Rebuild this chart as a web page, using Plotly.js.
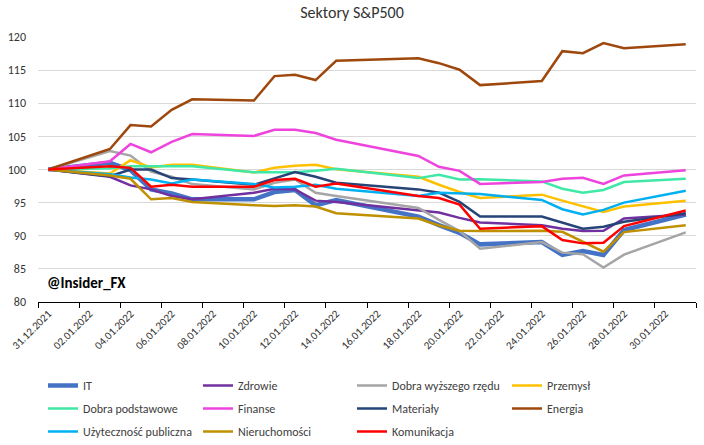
<!DOCTYPE html>
<html><head><meta charset="utf-8">
<script src="https://cdn.plot.ly/plotly-3.0.1.min.js"></script>
<style>html,body{margin:0;padding:0;background:#fff}#chart{width:704px;height:445px}</style>
</head><body><div id="chart"></div>
<script>
const dates = ['2021-12-31','2022-01-03','2022-01-04','2022-01-05','2022-01-06','2022-01-07',
 '2022-01-10','2022-01-11','2022-01-12','2022-01-13','2022-01-14',
 '2022-01-18','2022-01-19','2022-01-20','2022-01-21',
 '2022-01-24','2022-01-25','2022-01-26','2022-01-27','2022-01-28','2022-01-31'];

const it          = [100,101.0,99.9,97.0,96.4,95.5, 95.5,96.6,96.9,94.6,95.4, 92.9,91.6,90.45,88.7, 89.05,87.1,87.7,87.1,90.85,93.2];
const zdrowie     = [100,98.9,97.6,97.0,96.0,95.5, 96.5,97.1,97.0,95.3,95.1, 93.9,93.5,92.7,92.0, 91.6,91.05,90.7,90.75,92.6,93.2];
const dobraWyz    = [100,102.8,102.1,99.7,98.9,97.8, 97.0,98.0,98.5,96.5,96.0, 94.2,92.4,90.7,88.05, 89.05,87.45,87.2,85.2,87.15,90.5];
const przemysl    = [100,99.4,101.4,100.3,100.7,100.7, 99.55,100.25,100.55,100.7,100.05, 98.9,97.7,96.6,95.7, 96.2,95.3,94.5,93.6,94.4,95.3];
const dobraPodst  = [100,100.2,100.5,100.5,100.5,100.5, 99.6,99.6,99.6,99.8,100.1, 98.7,99.2,98.5,98.54, 98.2,97.1,96.5,96.9,98.1,98.6];
const finanse     = [100,101.25,103.86,102.6,104.16,105.36, 105.07,106.0,106.0,105.5,104.5, 102.05,100.4,99.8,97.83, 98.13,98.6,98.74,97.83,99.1,99.9];
const materialy   = [100,99.0,100.0,100.0,98.7,98.5, 97.7,98.7,99.6,98.9,98.0, 97.0,96.5,95.1,92.9, 92.9,92.0,91.05,91.35,92.1,93.4];
const energia     = [100,103.1,106.7,106.5,109.0,110.6, 110.4,114.1,114.3,113.5,116.4, 116.8,116.05,115.06,112.74, 113.35,117.86,117.56,119.07,118.3,118.9];
const uzytecznosc = [100,99.3,98.8,98.5,97.9,98.5, 97.8,97.3,97.4,97.7,97.1, 96.0,96.5,96.4,96.3, 95.4,94.0,93.2,93.9,95.0,96.8];
const nieruch     = [100,99.1,98.6,95.5,95.7,95.1, 94.6,94.5,94.6,94.4,93.4, 92.6,91.55,90.75,90.7, 90.75,90.6,89.05,87.6,90.55,91.6];
const komunikacja = [100,100.5,100.25,97.4,97.7,97.4, 97.4,98.4,98.6,97.4,97.9, 96.0,95.7,94.7,91.05, 91.45,89.35,88.85,88.95,91.45,93.8];

const names = ['IT','Zdrowie','Dobra wyższego rzędu','Przemysł','Dobra podstawowe','Finanse','Materiały','Energia','Użyteczność publiczna','Nieruchomości','Komunikacja'];
const series = [it,zdrowie,dobraWyz,przemysl,dobraPodst,finanse,materialy,energia,uzytecznosc,nieruch,komunikacja];
const colors = ['#4472C4','#7030A0','#A5A5A5','#FFC000','#3FE8A6','#EE44DD','#264478','#9E480E','#00B0F0','#BF9000','#FF0000'];
const widths = [4.5,2.5,2.5,2.5,2.5,2.5,2.5,2.5,2.5,2.5,2.5];
const legendIds = ['legend','legend2','legend3','legend4'];

const traces = series.map((s,i)=>({
  x: dates, y: s, name: names[i], type:'scatter', mode:'lines',
  legend: legendIds[i % 4], legendgroup: 'g'+i,
  line:{color:colors[i], width:widths[i]}
}));

const font = 'Carlito, Lato, "Liberation Sans", sans-serif';
const legendBase = (x)=>({orientation:'v', xref:'container', yref:'container', x:x/704, y:1-371/445,
  xanchor:'left', yanchor:'top', tracegroupgap:4, itemwidth:30, bgcolor:'rgba(0,0,0,0)',
  font:{family:font, size:12, color:'#404040'}, traceorder:'grouped'});

const layout = {
  width:704, height:445,
  margin:{l:38, r:8, t:37, b:143, autoexpand:false},
  paper_bgcolor:'#fff', plot_bgcolor:'#fff',
  font:{family:font, size:12, color:'#404040'},
  title:{text:'Sektory S&P500', x:0.5, xref:'container', y:0.973, yanchor:'middle', font:{family:font, size:16, color:'#333'}},
  showlegend:true,
  legend: legendBase(43),
  legend2: legendBase(198),
  legend3: legendBase(352),
  legend4: legendBase(507),
  xaxis:{type:'date', range:['2021-12-30 12:00','2022-01-31 12:00'],
    tick0:'2021-12-31', dtick:2*86400000, tickformat:'%d.%m.%Y', tickangle:-45,
    ticks:'', showgrid:false, showline:true, linecolor:'#000', linewidth:1,
    tickfont:{family:font, size:11, color:'#333'},
    minor:{tick0:'2021-12-30 12:00', dtick:2*86400000, ticks:'outside', ticklen:5, tickcolor:'#000', showgrid:false}
  },
  yaxis:{range:[80,120], dtick:5, showgrid:true, gridcolor:'#D9D9D9', gridwidth:1, zeroline:false, showline:false,
    ticks:'', ticklabelstandoff:11, tickfont:{family:font, size:12, color:'#333'}},
  annotations:[{text:'<b>@Insider_FX</b>', xref:'paper', yref:'paper', x:7/658, y:(302-283)/265, xanchor:'left', yanchor:'middle',
    showarrow:false, font:{family:font, size:15, color:'#000'}}]
};
Plotly.newPlot('chart', traces, layout, {displayModeBar:false, staticPlot:true});
</script></body></html>
